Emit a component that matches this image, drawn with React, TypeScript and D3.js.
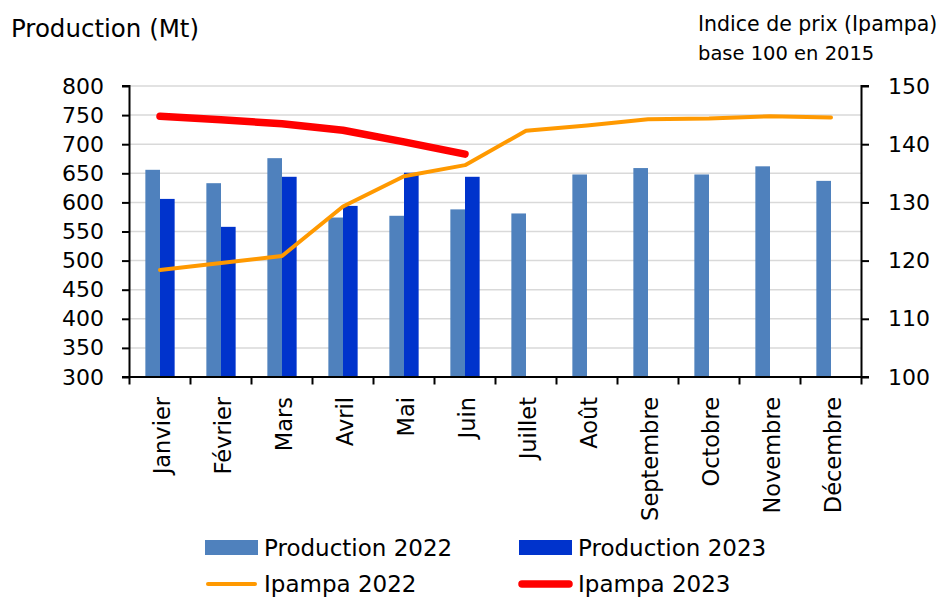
import { useEffect, useRef } from 'react';
import * as d3 from 'd3';

const months = ['Janvier', 'Février', 'Mars', 'Avril', 'Mai', 'Juin', 'Juillet', 'Août', 'Septembre', 'Octobre', 'Novembre', 'Décembre'];
const production2022 = [656, 633, 676, 574, 577, 588, 581, 648, 659, 648, 662, 637];
const production2023 = [606, 558, 644, 594, 651, 644];
const ipampa2022 = [118.4, 119.6, 120.8, 129.3, 134.5, 136.4, 142.3, 143.2, 144.3, 144.4, 144.8, 144.6];
const ipampa2023 = [144.8, 144.2, 143.5, 142.4, 140.4, 138.3];
const leftTicks = [300, 350, 400, 450, 500, 550, 600, 650, 700, 750, 800];
const rightTicks = [100, 110, 120, 130, 140, 150];

const FONT = '"DejaVu Sans", sans-serif';

const App = () => {
    const ref = useRef(null);
    const width = 940,
        height = 598;

    useEffect(() => {
        const svg = d3.select(ref.current);
        svg.selectAll('*').remove();

        const left = 129.5,
            right = 861.5,
            top = 86,
            bottom = 377;

        const x = d3.scaleBand().domain(months).range([left, right]);
        const yL = d3.scaleLinear().domain([300, 800]).range([bottom, top]);
        const yR = d3.scaleLinear().domain([100, 150]).range([bottom, top]);

        // grid
        svg.append('g')
            .selectAll('line')
            .data(leftTicks.slice(1))
            .enter()
            .append('line')
            .attr('x1', left)
            .attr('x2', right)
            .attr('y1', (d) => yL(d))
            .attr('y2', (d) => yL(d))
            .attr('stroke', '#d9d9d9')
            .attr('stroke-width', 1.5);

        // bars
        const barW = x.bandwidth() * 0.24;
        svg.append('g')
            .selectAll('rect')
            .data(production2022)
            .enter()
            .append('rect')
            .attr('x', (d, i) => x(months[i]) + x.bandwidth() / 2 - barW)
            .attr('y', (d) => yL(d))
            .attr('width', barW)
            .attr('height', (d) => bottom - yL(d))
            .attr('fill', '#4f81bd');

        svg.append('g')
            .selectAll('rect')
            .data(production2023)
            .enter()
            .append('rect')
            .attr('x', (d, i) => x(months[i]) + x.bandwidth() / 2)
            .attr('y', (d) => yL(d))
            .attr('width', barW)
            .attr('height', (d) => bottom - yL(d))
            .attr('fill', '#0033cc');

        // lines
        const line = d3
            .line()
            .x((d, i) => x(months[i]) + x.bandwidth() / 2)
            .y((d) => yR(d));

        svg.append('path')
            .datum(ipampa2022)
            .attr('d', line)
            .attr('fill', 'none')
            .attr('stroke', '#ff9900')
            .attr('stroke-width', 4)
            .attr('stroke-linejoin', 'round')
            .attr('stroke-linecap', 'round');

        svg.append('path')
            .datum(ipampa2023)
            .attr('d', line)
            .attr('fill', 'none')
            .attr('stroke', '#ff0000')
            .attr('stroke-width', 7.5)
            .attr('stroke-linejoin', 'round')
            .attr('stroke-linecap', 'round');

        // axes
        const axisLeft = svg
            .append('g')
            .attr('transform', `translate(${left},0)`)
            .call(d3.axisLeft(yL).tickValues(leftTicks).tickSize(7.5).tickPadding(18));
        const axisRight = svg
            .append('g')
            .attr('transform', `translate(${right},0)`)
            .call(d3.axisRight(yR).tickValues(rightTicks).tickSize(7.5).tickPadding(19));

        // x axis, ticks at band boundaries
        const boundaries = months.map((m) => x(m)).concat([right]);
        svg.append('line')
            .attr('x1', left)
            .attr('x2', right)
            .attr('y1', bottom)
            .attr('y2', bottom)
            .attr('stroke', '#000')
            .attr('stroke-width', 2);
        svg.append('g')
            .selectAll('line')
            .data(boundaries)
            .enter()
            .append('line')
            .attr('x1', (d) => d)
            .attr('x2', (d) => d)
            .attr('y1', bottom)
            .attr('y2', bottom + 7.5)
            .attr('stroke', '#000')
            .attr('stroke-width', 2);

        [axisLeft, axisRight].forEach((a) => {
            a.select('.domain').attr('stroke', '#000').attr('stroke-width', 2);
            a.selectAll('.tick line').attr('stroke', '#000').attr('stroke-width', 2);
            a.selectAll('.tick text')
                .attr('font-family', FONT)
                .attr('font-size', 22)
                .attr('fill', '#000');
        });
        axisLeft.select('.domain').attr('d', `M-7.5,${bottom}H0V${top}H-7.5`);
        axisRight.select('.domain').attr('d', `M7.5,${bottom}H0V${top}H7.5`);

        svg.append('g')
            .selectAll('text')
            .data(months)
            .enter()
            .append('text')
            .attr('transform', (d) => `translate(${x(d) + x.bandwidth() / 2 + 10},${bottom + 20}) rotate(-90)`)
            .attr('text-anchor', 'end')
            .attr('font-family', FONT)
            .attr('font-size', 22.5)
            .text((d) => d);

        // titles
        svg.append('text')
            .attr('x', 11)
            .attr('y', 37)
            .attr('font-family', FONT)
            .attr('font-size', 24.5)
            .text('Production (Mt)');
        svg.append('text')
            .attr('x', 698)
            .attr('y', 31)
            .attr('font-family', FONT)
            .attr('font-size', 20.5)
            .text('Indice de prix (Ipampa)');
        svg.append('text')
            .attr('x', 698)
            .attr('y', 60)
            .attr('font-family', FONT)
            .attr('font-size', 19.5)
            .text('base 100 en 2015');

        // legend
        const legend = [
            { label: 'Production 2022', color: '#4f81bd', type: 'rect', lx: 205, ly: 548 },
            { label: 'Production 2023', color: '#0033cc', type: 'rect', lx: 519, ly: 548 },
            { label: 'Ipampa 2022', color: '#ff9900', type: 'line', w: 4, lx: 205, ly: 584 },
            { label: 'Ipampa 2023', color: '#ff0000', type: 'line', w: 7.5, lx: 519, ly: 584 },
        ];
        const lg = svg.append('g');
        legend.forEach((d) => {
            if (d.type === 'rect') {
                lg.append('rect')
                    .attr('x', d.lx)
                    .attr('y', d.ly - 8)
                    .attr('width', 53)
                    .attr('height', 15)
                    .attr('fill', d.color);
            } else {
                lg.append('line')
                    .attr('x1', d.lx + 3)
                    .attr('x2', d.lx + 50)
                    .attr('y1', d.ly)
                    .attr('y2', d.ly)
                    .attr('stroke', d.color)
                    .attr('stroke-width', d.w)
                    .attr('stroke-linecap', 'round');
            }
            lg.append('text')
                .attr('x', d.lx + 59)
                .attr('y', d.ly + 8)
                .attr('font-family', FONT)
                .attr('font-size', 23)
                .text(d.label);
        });
    }, []);

    return (
        <svg
            ref={ref}
            width={width}
            height={height}
            style={{ position: 'absolute', left: 0, top: 0, background: '#fff' }}
        ></svg>
    );
};

export default App;
